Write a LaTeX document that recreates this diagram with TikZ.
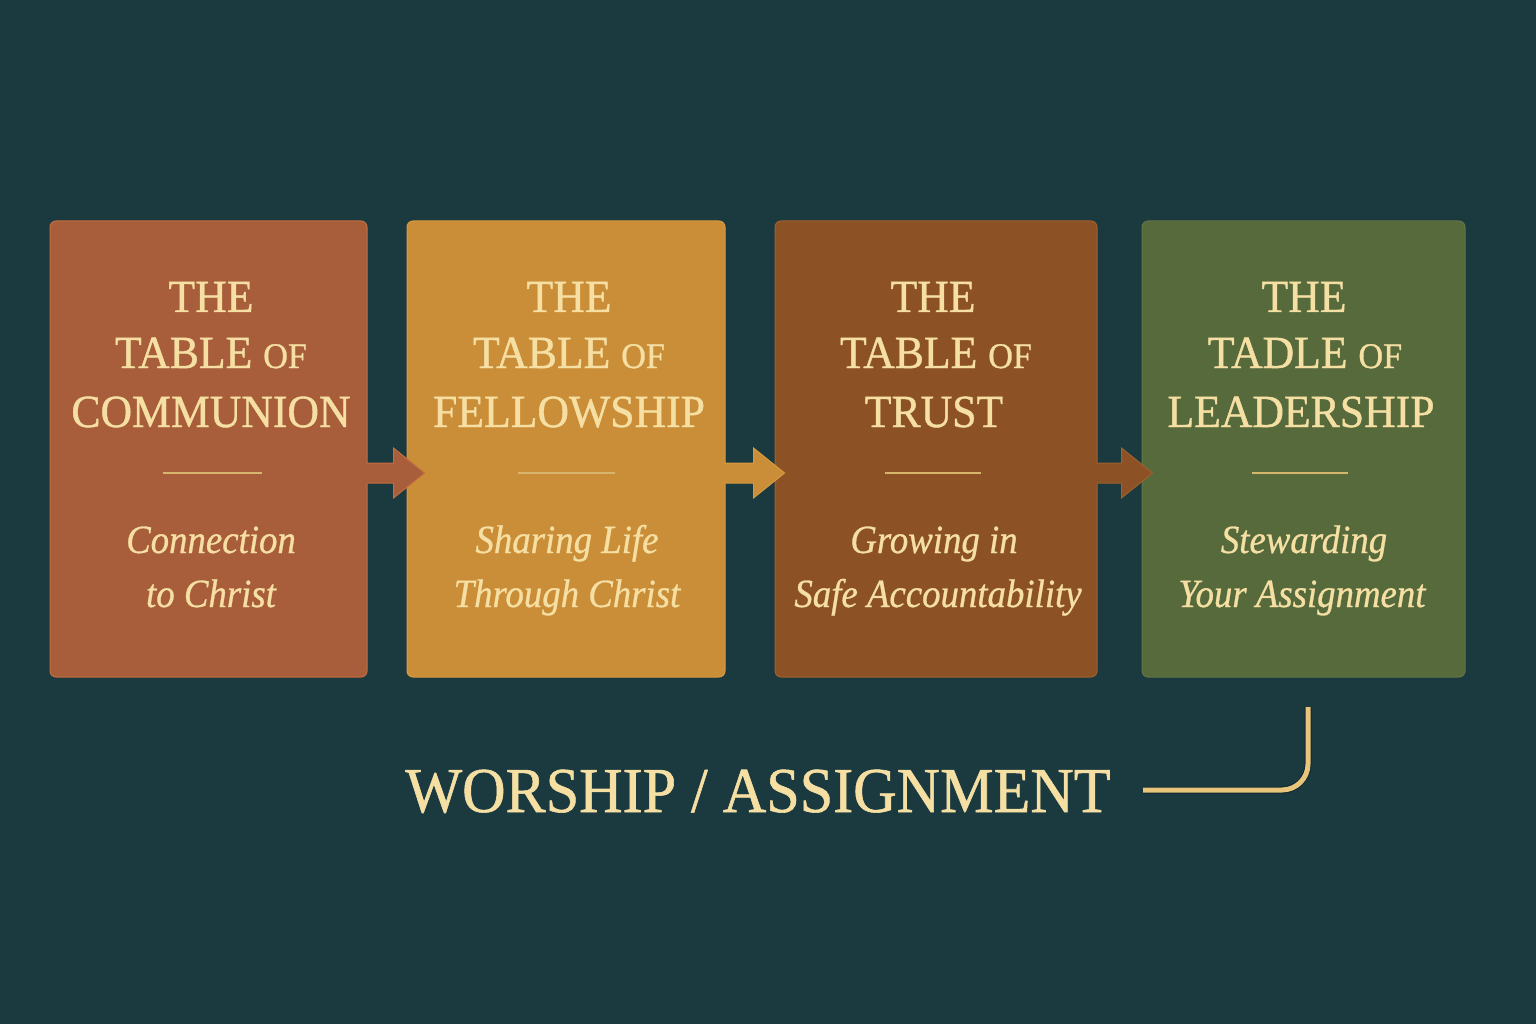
\documentclass[tikz,border=0pt]{standalone}
\usepackage{fontspec}
\setmainfont{Liberation Serif}
\newfontfamily\ttlfont[FakeBold=0.9, FakeStretch=0.95]{Liberation Serif}
\newfontfamily\subfont[FakeBold=0.7, FakeStretch=0.92]{Liberation Serif}
\newfontfamily\bigfont[FakeBold=0.9, FakeStretch=0.94]{Liberation Serif}
\usetikzlibrary{calc}
\definecolor{bg}{HTML}{1B3A40}
\definecolor{cA}{HTML}{A85D3B}
\definecolor{cAl}{HTML}{C46E40}
\definecolor{cB}{HTML}{CB8E38}
\definecolor{cBl}{HTML}{D89A40}
\definecolor{cC}{HTML}{8C5226}
\definecolor{cCl}{HTML}{A0602C}
\definecolor{cD}{HTML}{566A3C}
\definecolor{cDl}{HTML}{627545}
\definecolor{cream}{HTML}{F5DFA3}
\definecolor{goldline}{HTML}{D8B56C}
\definecolor{bracket}{HTML}{E8C57A}
\tikzset{
  box/.style={rounded corners=6pt, minimum width=#1, minimum height=456pt, inner sep=0pt},
  ttl/.style={anchor=base, text=cream, inner sep=0pt, font=\ttlfont\fontsize{46}{46}\selectfont},
  sub/.style={anchor=base, text=cream, inner sep=0pt, font=\subfont\fontsize{40}{40}\selectfont\itshape},
  sep/.style={draw=goldline, line width=1.5pt},
  bigtxt/.style={anchor=base, text=cream, inner sep=0pt, font=\bigfont\fontsize{64}{64}\selectfont},
}
\newcommand{\smof}{{\fontsize{36}{36}\selectfont OF}}
\begin{document}
\begin{tikzpicture}[x=1pt,y=-1pt]
\useasboundingbox (0,0) rectangle (1536,1024);
\fill[bg] (0,0) rectangle (1536,1024);

% boxes
\node[box=317pt, fill=cA, draw=cAl, line width=1pt] (b1) at (208.5,449) {};
\node[box=318pt, fill=cB, draw=cBl, line width=1pt] (b2) at (566,449) {};
\node[box=322pt, fill=cC, draw=cCl, line width=1pt] (b3) at (936,449) {};
\node[box=323pt, fill=cD, draw=cDl, line width=1pt] (b4) at (1303.5,449) {};

% arrows
\foreach \s/\t/\col/\lc/\ov in {b1/b2/cA/cAl/18, b2/b3/cB/cBl/10, b3/b4/cC/cCl/11}{
  \coordinate (as) at ($(\s.east)+(-1,24)$);
  \coordinate (at) at ($(\t.west)+(\ov,24)$);
  \filldraw[fill=\col, draw=\lc, line width=1pt, line join=miter]
    ($(as)+(0,-10)$) -- ($(at)+(-31,-10)$) -- ($(at)+(-31,-25)$) -- (at)
    -- ($(at)+(-31,25)$) -- ($(at)+(-31,10)$) -- ($(as)+(0,10)$);
  \fill[\col] ($(as)+(-3,-9.5)$) rectangle ($(as)+(1,9.5)$);
}

% box 1
\node[ttl] (t1a) at (211,312) {THE};
\node[ttl] (t1b) at (211,368) {TABLE \smof};
\node[ttl] (t1c) at (211,427) {COMMUNION};
\draw[sep] (163,473) -- (262,473);
\node[sub] (s1a) at (211,553) {Connection};
\node[sub] (s1b) at (211,607) {to Christ};

% box 2
\node[ttl] (t2a) at (569,312) {THE};
\node[ttl] (t2b) at (569,368) {TABLE \smof};
\node[ttl] (t2c) at (569,427) {FELLOWSHIP};
\draw[sep] (518,473) -- (615,473);
\node[sub] (s2a) at (567,553) {Sharing Life};
\node[sub] (s2b) at (567,607) {Through Christ};

% box 3
\node[ttl] (t3a) at (933,312) {THE};
\node[ttl] (t3b) at (936,368) {TABLE \smof};
\node[ttl] (t3c) at (934,427) {TRUST};
\draw[sep] (885,473) -- (981,473);
\node[sub] (s3a) at (934,553) {Growing in};
\node[sub] (s3b) at (938,607) {Safe Accountability};

% box 4
\node[ttl] (t4a) at (1304,312) {THE};
\node[ttl] (t4b) at (1305,368) {TADLE \smof};
\node[ttl] (t4c) at (1301,427) {LEADERSHIP};
\draw[sep] (1252,473) -- (1348,473);
\node[sub] (s4a) at (1304,553) {Stewarding};
\node[sub] (s4b) at (1302,607) {Your Assignment};

% bottom label
\node[bigtxt] (wa) at (758,812) {WORSHIP / ASSIGNMENT};

% bracket
\coordinate (bs) at (1143,790);
\coordinate (be) at (1308,707);
\draw[line width=7pt, color=bg!70!black, rounded corners=26pt] (bs) -| (be);
\draw[line width=5pt, color=bracket, rounded corners=26pt] (bs) -| (be);
\end{tikzpicture}
\end{document}
